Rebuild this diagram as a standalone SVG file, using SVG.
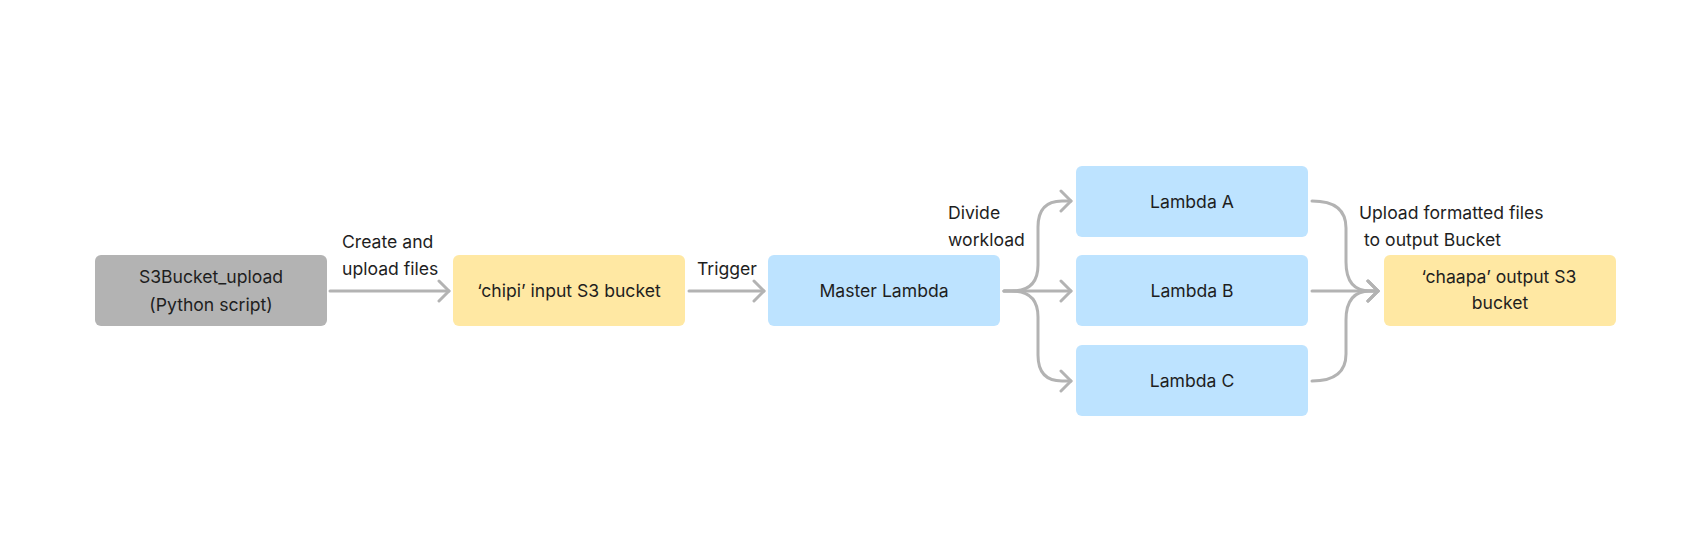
<svg xmlns="http://www.w3.org/2000/svg" width="1706" height="541" viewBox="0 0 1706 541">
<defs>
<style>
.t{font-family:Inter,"Noto Sans","Liberation Sans",sans-serif;font-size:17.6px;fill:#1e1e1e}
.c{text-anchor:middle}
.gray{fill:#b3b3b3}
.yel{fill:#ffe8a3}
.blue{fill:#bde3ff}
.ln{fill:none;stroke:#b3b3b3;stroke-width:3;stroke-linecap:round;stroke-linejoin:round}
</style>
<marker id="ah" viewBox="0 0 14 24" refX="12" refY="12" markerWidth="14" markerHeight="24" markerUnits="userSpaceOnUse" orient="auto">
<path d="M2,2 L12,12 L2,22" fill="none" stroke="#b3b3b3" stroke-width="3" stroke-linecap="round" stroke-linejoin="round"/>
</marker>
</defs>
<rect width="1706" height="541" fill="#ffffff"/>
<g id="connectors">
<path class="ln" d="M330,291 H449" marker-end="url(#ah)"/>
<path class="ln" d="M689,291 H764" marker-end="url(#ah)"/>
<path class="ln" d="M1004,291 H1012 Q1038,291 1038,265 V227 Q1038,201 1062,201 H1071" marker-end="url(#ah)"/>
<path class="ln" d="M1004,291 H1071" marker-end="url(#ah)"/>
<path class="ln" d="M1004,291 H1012 Q1038,291 1038,317 V355 Q1038,381 1062,381 H1071" marker-end="url(#ah)"/>
<path class="ln" d="M1312,201 Q1346,201 1346,228 V262 Q1346,291 1370,291 H1378" marker-end="url(#ah)"/>
<path class="ln" d="M1312,291 H1378" marker-end="url(#ah)"/>
<path class="ln" d="M1312,381 Q1346,381 1346,354 V320 Q1346,291 1370,291 H1378" marker-end="url(#ah)"/>
<text class="t" x="342" y="248">Create and</text>
<text class="t" x="342" y="275">upload files</text>
<text class="t" x="697" y="275">Trigger</text>
<text class="t" x="948" y="219">Divide</text>
<text class="t" x="948" y="246">workload</text>
<text class="t" x="1359" y="219">Upload formatted files</text>
<text class="t" x="1364" y="246">to output Bucket</text>
</g>
<g id="s3bucket-upload">
<rect class="gray" x="95" y="255" width="232" height="71" rx="6"/>
<text class="t c" x="211" y="283">S3Bucket_upload</text>
<text class="t c" x="211" y="311">(Python script)</text>
</g>
<g id="chipi-bucket">
<rect class="yel" x="453" y="255" width="232" height="71" rx="6"/>
<text class="t c" x="569" y="297">‘chipi’ input S3 bucket</text>
</g>
<g id="master-lambda">
<rect class="blue" x="768" y="255" width="232" height="71" rx="6"/>
<text class="t c" x="884" y="297">Master Lambda</text>
</g>
<g id="lambda-a">
<rect class="blue" x="1076" y="166" width="232" height="71" rx="6"/>
<text class="t c" x="1192" y="208">Lambda A</text>
</g>
<g id="lambda-b">
<rect class="blue" x="1076" y="255" width="232" height="71" rx="6"/>
<text class="t c" x="1192" y="297">Lambda B</text>
</g>
<g id="lambda-c">
<rect class="blue" x="1076" y="345" width="232" height="71" rx="6"/>
<text class="t c" x="1192" y="387">Lambda C</text>
</g>
<g id="chaapa-bucket">
<rect class="yel" x="1384" y="255" width="232" height="71" rx="6"/>
<text class="t c" x="1499" y="283">‘chaapa’ output S3</text>
<text class="t c" x="1500" y="309">bucket</text>
</g>
</svg>
